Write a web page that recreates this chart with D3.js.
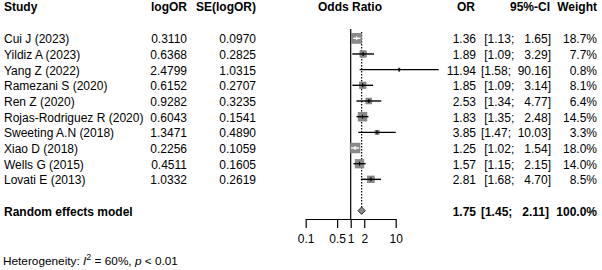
<!DOCTYPE html>
<html>
<head>
<meta charset="utf-8">
<script src="https://cdn.jsdelivr.net/npm/d3@7"></script>
<style>
  html, body { margin: 0; padding: 0; background: #fff; }
  svg text { font-family: "Liberation Sans", Arial, sans-serif; font-size: 12px; fill: #000; white-space: pre; }
</style>
</head>
<body>
<div id="chart"></div>
<script>
// study data as printed in the forest plot
const studies = ["Cui J (2023)", "Yildiz A (2023)", "Yang Z (2022)", "Ramezani S (2020)", "Ren Z (2020)",
  "Rojas-Rodriguez R (2020)", "Sweeting A.N (2018)", "Xiao D (2018)", "Wells G (2015)", "Lovati E (2013)"];
const logOR = ["0.3110", "0.6368", "2.4799", "0.6152", "0.9282", "0.6043", "1.3471", "0.2256", "0.4511", "1.0332"];
const seLogOR = ["0.0970", "0.2825", "1.0315", "0.2707", "0.3235", "0.1541", "0.4890", "0.1059", "0.1605", "0.2619"];
const orVals = [1.36, 1.89, 11.94, 1.85, 2.53, 1.83, 3.85, 1.25, 1.57, 2.81];
const ciLow = [1.13, 1.09, 1.58, 1.09, 1.34, 1.35, 1.47, 1.02, 1.15, 1.68];
const ciHigh = [1.65, 3.29, 90.16, 3.14, 4.77, 2.48, 10.03, 1.54, 2.15, 4.70];
const weights = [18.7, 7.7, 0.8, 8.1, 6.4, 14.5, 3.3, 18.0, 14.0, 8.5];

const pooled = {label: "Random effects model", or: 1.75, low: 1.45, high: 2.11, weight: 100.0};
const xTicks = [0.1, 0.5, 1, 2, 10];

const width = 602, height = 270;
const svg = d3.select("#chart").append("svg")
  .attr("width", width).attr("height", height);

const x = d3.scaleLog().domain([0.1, 10]).range([305.7, 395.7]);
// rows: studies 0..9, blank, pooled at 11
const y = d3.scaleLinear().domain([0, 11]).range([38.3, 210.7]);
const side = d3.scaleSqrt().domain([0, 18.7]).range([0, 10]);

const fmt2 = d3.format(".2f");
const ciText = (lo, hi) => {
  const a = fmt2(lo), b = fmt2(hi);
  return "[" + a + ";" + " ".repeat(6 - a.length) + " ".repeat(5 - b.length) + b + "]";
};

// headers
const head = svg.append("g").style("font-weight", "bold");
head.append("text").attr("x", 4).attr("y", 11).text("Study");
head.append("text").attr("x", 187).attr("y", 11).attr("text-anchor", "end").text("logOR");
head.append("text").attr("x", 256).attr("y", 11).attr("text-anchor", "end").text("SE(logOR)");
head.append("text").attr("x", 350).attr("y", 11).attr("text-anchor", "middle").text("Odds Ratio");
head.append("text").attr("x", 475).attr("y", 11).attr("text-anchor", "end").text("OR");
head.append("text").attr("x", 550).attr("y", 11).attr("text-anchor", "end").text("95%-CI");
head.append("text").attr("x", 597).attr("y", 11).attr("text-anchor", "end").text("Weight");

// reference lines
svg.append("line")
  .attr("x1", x(1)).attr("x2", x(1))
  .attr("y1", 29).attr("y2", 219)
  .attr("stroke", "#000").attr("stroke-width", 1.2);
svg.append("line")
  .attr("x1", x(pooled.or)).attr("x2", x(pooled.or))
  .attr("y1", 32).attr("y2", y(11) - 3)
  .attr("stroke", "#000").attr("stroke-width", 1.2)
  .attr("stroke-dasharray", "1.5,1.5");

// study rows
const rows = svg.selectAll(".row")
  .data(studies.map((s, i) => ({s, i})))
  .join("g").attr("class", "row");

rows.append("text").attr("x", 4).attr("y", d => y(d.i) + 5).text(d => d.s);
rows.append("text").attr("x", 187).attr("y", d => y(d.i) + 5).attr("text-anchor", "end").text(d => logOR[d.i]);
rows.append("text").attr("x", 256).attr("y", d => y(d.i) + 5).attr("text-anchor", "end").text(d => seLogOR[d.i]);
rows.append("text").attr("x", 476).attr("y", d => y(d.i) + 5).attr("text-anchor", "end").text(d => fmt2(orVals[d.i]));
rows.append("text").attr("x", 551).attr("y", d => y(d.i) + 5).attr("text-anchor", "end").text(d => ciText(ciLow[d.i], ciHigh[d.i]));
rows.append("text").attr("x", 597).attr("y", d => y(d.i) + 5).attr("text-anchor", "end").text(d => weights[d.i].toFixed(1) + "%");

// squares
rows.append("rect")
  .attr("x", d => x(orVals[d.i]) - side(weights[d.i]) / 2)
  .attr("y", d => y(d.i) - side(weights[d.i]) / 2)
  .attr("width", d => side(weights[d.i]))
  .attr("height", d => side(weights[d.i]))
  .attr("fill", "#8a8a8a").attr("stroke", "#777").attr("stroke-width", 0.6);

// CI lines: white when fully inside the square
const inside = i => {
  const h = side(weights[i]) / 2, c = x(orVals[i]);
  return x(ciLow[i]) >= c - h && x(ciHigh[i]) <= c + h;
};
rows.append("line")
  .attr("x1", d => x(ciLow[d.i])).attr("x2", d => x(ciHigh[d.i]))
  .attr("y1", d => y(d.i)).attr("y2", d => y(d.i))
  .attr("stroke", d => inside(d.i) ? "#fff" : "#000").attr("stroke-width", 1.4);
rows.append("line")
  .attr("x1", d => x(orVals[d.i])).attr("x2", d => x(orVals[d.i]))
  .attr("y1", d => y(d.i) - 2).attr("y2", d => y(d.i) + 2)
  .attr("stroke", d => inside(d.i) ? "#fff" : "#000").attr("stroke-width", 1.2);

// pooled estimate
const yp = y(11);
svg.append("path")
  .attr("d", `M${x(pooled.low)},${yp} L${x(pooled.or)},${yp - 3.7} L${x(pooled.high)},${yp} L${x(pooled.or)},${yp + 3.7} Z`)
  .attr("fill", "#8a8a8a").attr("stroke", "#333").attr("stroke-width", 1);
const pg = svg.append("g").style("font-weight", "bold");
pg.append("text").attr("x", 4).attr("y", yp + 5).text(pooled.label);
pg.append("text").attr("x", 476).attr("y", yp + 5).attr("text-anchor", "end").text(fmt2(pooled.or));
pg.append("text").attr("x", 549).attr("y", yp + 5).attr("text-anchor", "end").text(ciText(pooled.low, pooled.high));
pg.append("text").attr("x", 597).attr("y", yp + 5).attr("text-anchor", "end").text(pooled.weight.toFixed(1) + "%");

// x axis
const axis = svg.append("g").attr("transform", "translate(0,219)")
  .call(d3.axisBottom(x).tickValues(xTicks).tickFormat(d => String(d)).tickSize(9).tickPadding(6).tickSizeOuter(0));
axis.select(".domain").attr("stroke", "#000").attr("stroke-width", 1.2);
axis.selectAll(".tick line").attr("stroke", "#000").attr("stroke-width", 1.2);
axis.selectAll(".tick text").attr("font-size", null).attr("font-family", null).attr("fill", "#000");

// heterogeneity
const het = svg.append("text").attr("x", 3).attr("y", 265).style("font-size", "11.8px");
het.append("tspan").text("Heterogeneity: ");
het.append("tspan").style("font-style", "italic").text("I");
het.append("tspan").attr("dy", -5).style("font-size", "9px").text("2");
het.append("tspan").attr("dy", 5).text(" = 60%, ");
het.append("tspan").style("font-style", "italic").text("p");
het.append("tspan").text(" < 0.01");
</script>
</body>
</html>
